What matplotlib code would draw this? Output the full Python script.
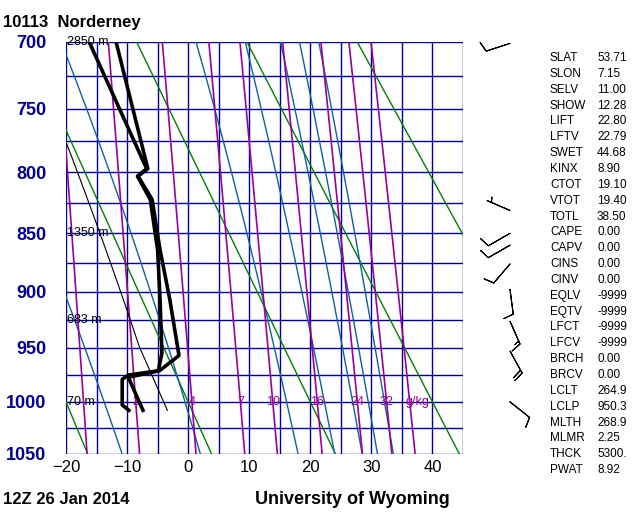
import numpy as np
import matplotlib
matplotlib.use("Agg")
import matplotlib.pyplot as plt

plt.rcParams['font.family'] = ['Liberation Sans', 'DejaVu Sans']

# sounding
p_t = [1008, 977, 971, 957, 907, 864, 822, 803, 797, 700]
t_t = [-7.4, -9.8, -4.7, -1.5, -3.0, -4.6, -5.9, -8.2, -6.6, -11.8]
p_d = [1008, 1003, 979, 975, 971, 955, 907, 864, 822, 803, 797, 700]
t_d = [-9.7, -10.8, -10.8, -9.8, -4.9, -4.3, -4.6, -5.0, -6.2, -8.3, -6.8, -16.2]

# winds: base pressure, u, v (kt)
wind_p = [701, 831, 850, 860, 876, 898, 926, 953, 1000]
wind_u = [9.5, 4.6, 8.7, 8.7, 6.5, -1.3, -6.0, -9.7, -7.8]
wind_v = [3.1, -2.0, 5.0, 5.0, 7.6, 9.9, 13.7, 17.5, 6.2]

height_p = [700, 850, 925, 1000]
height_lbl = ["2850 m", "1350 m", "683 m", "70 m"]

index_names = ["SLAT", "SLON", "SELV", "SHOW", "LIFT", "LFTV", "SWET", "KINX",
               "CTOT", "VTOT", "TOTL", "CAPE", "CAPV", "CINS", "CINV", "EQLV",
               "EQTV", "LFCT", "LFCV", "BRCH", "BRCV", "LCLT", "LCLP", "MLTH",
               "MLMR", "THCK", "PWAT"]
index_vals = ["53.71", "7.15", "11.00", "12.28", "22.80", "22.79", "44.68", "8.90",
              "19.10", "19.40", "38.50", "0.00", "0.00", "0.00", "0.00", "-9999",
              "-9999", "-9999", "-9999", "0.00", "0.00", "264.9", "950.3", "268.9",
              "2.25", "5300.", "8.92"]

theta_dry = [-20, 0, 20, 40, 60, 80, 100]           # deg C
moist_start = [-10.8, 2, 18, 24, 28.5, 31, 33.6]     # deg C at 1050
mix_ratios = [1, 2, 4, 7, 10, 16, 24, 32, 40]
mix_labels = [2, 4, 7, 10, 16, 24, 32]

K = 0.286
NAVY = "#000099"

def es(tc):
    return 6.112 * np.exp(17.67 * tc / (tc + 243.5))

def moist_path(t0, p0, p1):
    ps = np.linspace(p0, p1, 300)
    ts = [t0 + 273.15]
    for i in range(1, len(ps)):
        T = ts[-1]
        p = ps[i - 1]
        rs = 0.622 * es(T - 273.15) / (p - es(T - 273.15))
        L = 2.5e6
        dTdp = (287 * T + L * rs) / (1004 + L * L * rs * 0.622 / (287 * T * T)) / p
        ts.append(T + dTdp * (ps[i] - p))
    return ps, np.array(ts) - 273.15

fig = plt.figure(figsize=(6.4, 5.12), dpi=100)
ax = fig.add_axes([66 / 640, 58 / 512, 397 / 640, 412 / 512])
ax.set_yscale("function", functions=(lambda p: np.power(np.abs(p), K),
                                       lambda q: np.power(np.abs(q), 1 / K)))
ax.set_xlim(-20, 45)
ax.set_ylim(1050, 700)

for t in np.arange(-20, 46, 5):
    ax.axvline(t, color=NAVY, lw=1, zorder=1)
for p in np.arange(700, 1051, 25):
    ax.axhline(p, color=NAVY, lw=1, zorder=1)

pp = np.linspace(1050, 700, 100)
for th in theta_dry:
    ax.plot((th + 273.15) * (pp / 1000) ** K - 273.15, pp, color="#008000", lw=1, zorder=2)
for t0 in moist_start:
    ps, ts = moist_path(t0, 1050, 700)
    ax.plot(ts, ps, color="#10609f", lw=1, zorder=2)
for w in mix_ratios:
    e = w * pp / (622 + w)
    a = np.log(e / 6.112)
    ax.plot(243.5 * a / (17.67 - a), pp, color="#990099", lw=1.2, zorder=2)
for w in mix_labels:
    e = w * 1000 / (622 + w)
    a = np.log(e / 6.112)
    ax.text(243.5 * a / (17.67 - a), 1000, str(w), color="#990099", fontsize=9,
            ha="center", va="center", zorder=3)
ax.text(37.5, 1000, "g/kg", color="#990099", fontsize=9, ha="center", va="center", zorder=3)

# parcel path: dry to LCL, then moist
pdry = np.linspace(1008, 950, 30)
tdry = (269.75) * (pdry / 1008) ** K - 273.15
pm, tm = moist_path(tdry[-1], 950, 700)
ax.plot(np.r_[tdry, tm], np.r_[pdry, pm], color="black", lw=0.8, zorder=4)

ax.plot(t_d, p_d, color="black", lw=2.6, zorder=5)
ax.plot(t_t, p_t, color="black", lw=2.6, zorder=5)

for p, s in zip(height_p, height_lbl):
    ax.text(-19.8, p, s, fontsize=9, ha="left", va="center", zorder=6)

ax.set_xticks(np.arange(-20, 41, 10))
ax.set_yticks(np.arange(700, 1051, 50))
ax.set_yticks([], minor=True)
ax.set_yticklabels([str(p) for p in range(700, 1051, 50)], color=NAVY,
                   fontweight="bold", fontsize=13)
ax.tick_params(axis="x", labelsize=12, length=0, pad=4)
ax.tick_params(axis="y", length=0, pad=14)
for s in ax.spines.values():
    s.set_visible(False)

# wind barbs
bx = fig.add_axes([470 / 640, 58 / 512, 80 / 640, 412 / 512])
bx.set_yscale("function", functions=(lambda p: np.power(np.abs(p), K),
                                       lambda q: np.power(np.abs(q), 1 / K)))
bx.set_ylim(1050, 700)
bx.set_xlim(0, 1)
bx.barbs([0.5] * len(wind_p), wind_p, wind_u, wind_v, length=6, lw=0.8,
         sizes=dict(emptybarb=0))
bx.axis("off")

fig.text(3 / 640, 1 - 22 / 512, "10113  Norderney", fontsize=12, fontweight="bold", va="center")
fig.text(3 / 640, 1 - 500 / 512, "12Z 26 Jan 2014", fontsize=12, fontweight="bold", va="center")
fig.text(255 / 640, 1 - 500 / 512, "University of Wyoming", fontsize=13, fontweight="bold", va="center")

for i, (n, v) in enumerate(zip(index_names, index_vals)):
    y = 1 - (58 + i * 15.85) / 512
    fig.text(550 / 640, y, n, fontsize=8.5, va="center")
    fig.text(597 / 640, y, v, fontsize=8.5, va="center")

fig.savefig("out.png", dpi=100)
